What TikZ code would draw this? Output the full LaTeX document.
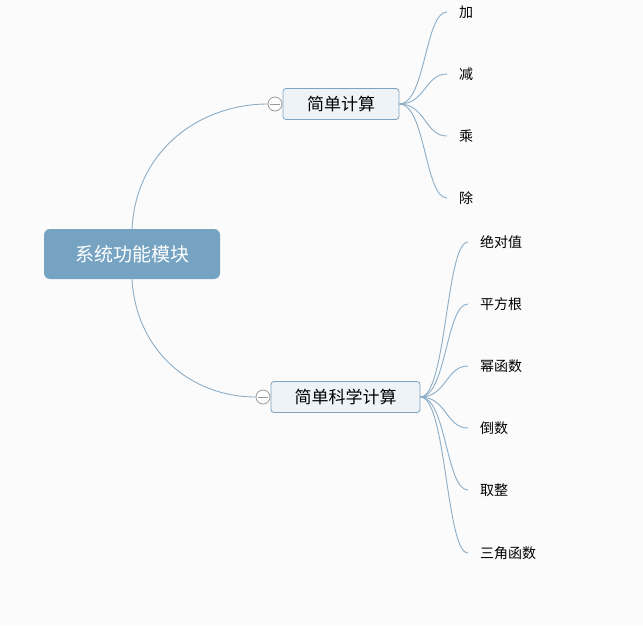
\documentclass[tikz,border=0pt]{standalone}
\usepackage{fontspec}
\setmainfont{Noto Sans CJK SC}
\begin{document}
\begin{tikzpicture}[x=1pt,y=-1pt,
  rootbox/.style={fill=rootblue,rounded corners=6pt,minimum width=176pt,minimum height=50pt,text=white,font=\fontsize{19}{21}\selectfont,inner sep=0pt},
  subbox/.style={draw=boxedge,fill=boxfill,rounded corners=3pt,minimum height=31pt,inner sep=0pt,font=\fontsize{17}{19}\selectfont,line width=0.8pt},
  leaf/.style={anchor=west,inner sep=0pt,font=\fontsize{14}{16}\selectfont},
  fold/.style={circle,draw=foldgray,fill=white,minimum size=14pt,inner sep=0pt,line width=0.8pt,path picture={\draw[foldgray,line width=0.8pt] ([xshift=-5pt]path picture bounding box.center) -- ([xshift=5pt]path picture bounding box.center);}},
  link/.style={draw=linkblue,line width=0.9pt}]
\definecolor{rootblue}{HTML}{77A3C3}
\definecolor{boxedge}{HTML}{7FA2BD}
\definecolor{boxfill}{HTML}{EEF3F8}
\definecolor{linkblue}{HTML}{8CADC7}
\definecolor{foldgray}{HTML}{9A9A9A}
\definecolor{bg}{HTML}{FBFBFB}
\fill[bg] (0,0) rectangle (643,625);
\useasboundingbox (0,0) rectangle (643,625);

\node[rootbox] (root) at (132,254) {系统功能模块};

\node[subbox,minimum width=116pt] (s1) at (341,104) {简单计算};
\node[subbox,minimum width=149pt] (s2) at (345.5,397) {简单科学计算};

% leaves of s1
\node[leaf] (a1) at (459,12) {加};
\node[leaf] (a2) at (459,74) {减};
\node[leaf] (a3) at (459,136) {乘};
\node[leaf] (a4) at (459,198) {除};
% leaves of s2
\node[leaf] (b1) at (480,242) {绝对值};
\node[leaf] (b2) at (480,304) {平方根};
\node[leaf] (b3) at (480,366) {幂函数};
\node[leaf] (b4) at (480,428) {倒数};
\node[leaf] (b5) at (480,490) {取整};
\node[leaf] (b6) at (480,553) {三角函数};

\foreach \n in {a1,a2,a3,a4,b1,b2,b3,b4,b5,b6}{
  \coordinate (e\n) at ([xshift=-12pt]\n.west);
}

% root connectors
\draw[link] (root.north) .. controls (136,150) and (200,104) .. (268,104);
\draw[link] (root.south) .. controls (136,350) and (190,397) .. (256,397);
\node[fold] (f1) at (275,104) {};
\node[fold] (f2) at (263,397) {};

% s1 branches
\foreach \e in {ea1,ea2,ea3,ea4}{
  \draw[link] (s1.east) .. controls +(26,0) and +(-22,0) .. (\e);
}
% s2 branches
\foreach \e in {eb1,eb2,eb3,eb4,eb5,eb6}{
  \draw[link] (s2.east) .. controls +(26,0) and +(-22,0) .. (\e);
}
\end{tikzpicture}
\end{document}
